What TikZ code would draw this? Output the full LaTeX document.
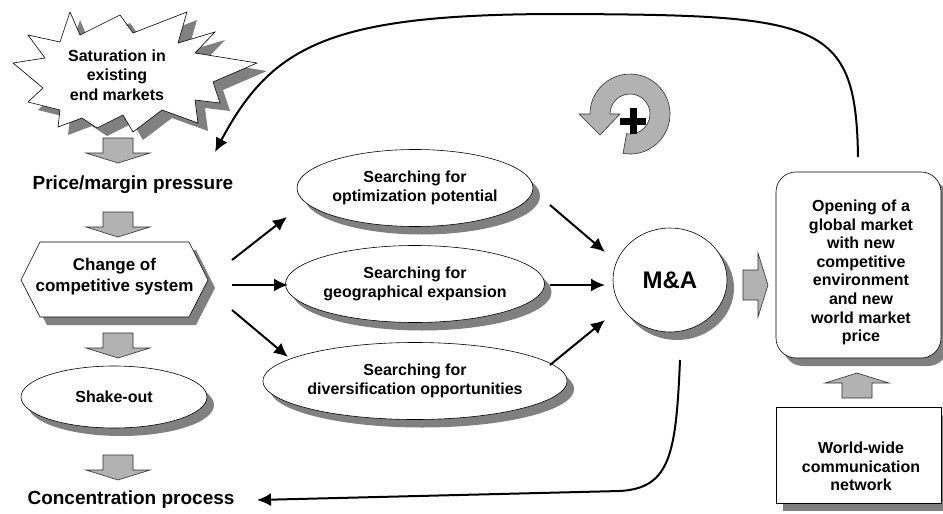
\documentclass[tikz,border=0pt]{standalone}
\usepackage{fontspec}
\setmainfont{Liberation Sans}
\usetikzlibrary{shapes.geometric,arrows.meta,shadows}
\definecolor{shadowgray}{HTML}{808080}
\definecolor{arrowgray}{HTML}{B2B2B2}
\definecolor{edgegray}{HTML}{303030}
\begin{document}
\begin{tikzpicture}[x=1pt,y=-1pt,
  base/.style={font=\bfseries\fontsize{16}{18.6}\selectfont, align=center, text=black, inner sep=0pt},
  head/.style={font=\bfseries\fontsize{19}{22}\selectfont, align=center, inner sep=0pt},
  shad/.style={drop shadow={shadow xshift=7pt, shadow yshift=-8pt, fill=shadowgray, opacity=1}},
  oval/.style={base, ellipse, draw, line width=0.6pt, fill=white, shad},
  outline/.style={draw=black, line width=0.6pt, fill=white},
  blockarrow/.style={fill=arrowgray, draw=edgegray, line width=0.6pt},
  conn/.style={line width=2pt, -{Latex[length=14pt,width=13pt]}},
  loop/.style={line width=2pt, -{Latex[length=14pt,width=13pt]}},
  pics/blockdown/.style={code={
    \draw[blockarrow] (-15,0) -- (15,0) -- (15,15) -- (32,15) -- (0,25)
      -- (-32,15) -- (-15,15) -- cycle;}}
]
\useasboundingbox (0,0) rectangle (943,514);

% ---- explosion shape with its shadow
\def\burstpath{(70,12) -- (80,35) -- (120,15) -- (133,33) -- (187,12) -- (178,43)
  -- (215,32) -- (195,53) -- (257,63) -- (213,82) -- (220,103) -- (195,100)
  -- (198,123) -- (162,110) -- (133,132) -- (123,115) -- (97,128) -- (82,118)
  -- (58,127) -- (60,110) -- (28,102) -- (43,88) -- (13,63) -- (45,58)
  -- (28,35) -- (60,42) -- cycle}
\fill[shadowgray, shift={(10,8)}] \burstpath;
\path[outline] \burstpath;
\node[base, font=\bfseries\fontsize{16}{19.5}\selectfont] (burst) at (117,75)
  {Saturation in\\existing\\end markets};

% ---- left column
\pic at (118,138) {blockdown};
\node[head] (price) at (133,185) {Price/margin pressure};
\pic at (118,212) {blockdown};
\fill[shadowgray, shift={(7,8)}] (21,280) -- (40,242) -- (189,242) -- (208,280) -- (189,317) -- (40,317) -- cycle;
\path[outline] (21,280) -- (40,242) -- (189,242) -- (208,280) -- (189,317) -- (40,317) -- cycle;
\node[base, font=\bfseries\fontsize{17}{21}\selectfont] (hex) at (114.5,277) {Change of\\competitive system};
\pic at (118,333) {blockdown};
\node[oval, minimum width=186pt, minimum height=62pt] (shake) at (114,397) {Shake-out};
\pic at (118,455) {blockdown};
\node[head] (conc) at (131,500) {Concentration process};

% ---- search ellipses
\node[oval, minimum width=236pt, minimum height=77pt] (opt) at (415,188)
  {Searching for\\optimization potential};
\node[oval, minimum width=236pt, minimum height=77pt] (geo) at (415,284)
  {Searching for\\geographical expansion};
\node[oval, minimum width=236pt, minimum height=77pt] (div) at (415,381)
  {Searching for\\diversification opportunities};

% ---- M&A
\node[oval, font=\bfseries\fontsize{24}{28}\selectfont, minimum width=114pt, minimum height=104pt] (ma) at (670,280) {M\&A};

% ---- right column
\node[draw, line width=0.6pt, fill=white, rounded corners=20pt, minimum width=165pt,
  minimum height=186pt, shad] (global) at (858.5,265) {};
\node[base] (globaltxt) at (861,272.5)
  {Opening of a\\global market\\with new\\competitive\\environment\\and new\\world market\\price};
\pic[rotate=180] at (857,398) {blockdown};
\node[draw, line width=0.6pt, fill=white, minimum width=165pt, minimum height=96pt, shad]
  (net) at (858.5,455) {};
\node[base] (nettxt) at (861,466.5) {World-wide\\communication\\network};
\pic[rotate=90] at (743,285) {blockdown};

% ---- reinforcing loop symbol
\draw[blockarrow, shift={(630,114)}]
  (100:40) arc[start angle=100, end angle=-180, radius=40]
  -- (-51,0) -- (-30,21) -- (-10,0) -- (-20,0)
  arc[start angle=-180, end angle=100, radius=20] -- cycle;
\fill[black] (620,117.5) rectangle (646,124.5);
\fill[black] (629.5,108) rectangle (636.5,134);

% ---- connector end points
\coordinate (hexA) at (232,260);
\coordinate (hexB) at (232,285);
\coordinate (hexC) at (232,310);
\coordinate (optIn) at (287,217);
\coordinate (geoIn) at (288,285);
\coordinate (divIn) at (288,357);
\coordinate (optOut) at (550,205);
\coordinate (geoOut) at (550,285);
\coordinate (divOut) at (550,365);
\coordinate (maA) at (605,252);
\coordinate (maB) at (605,285);
\coordinate (maC) at (605,320);
\coordinate (maBottom) at (680,360);
\coordinate (concIn) at (257,500);
\coordinate (globalTop) at (858,157);
\coordinate (priceIn) at (215,152);

\draw[conn] (hexA) -- (optIn);
\draw[conn] (hexB) -- (geoIn);
\draw[conn] (hexC) -- (divIn);
\draw[conn] (optOut) -- (maA);
\draw[conn] (geoOut) -- (maB);
\draw[conn] (divOut) -- (maC);

\draw[loop] (maBottom) .. controls (676,455) and (670,488) .. (620,491) -- (concIn);
\draw[loop] (globalTop) .. controls (856,20) and (820,15) .. (560,14)
  .. controls (330,14) and (272,45) .. (priceIn);
\end{tikzpicture}
\end{document}
